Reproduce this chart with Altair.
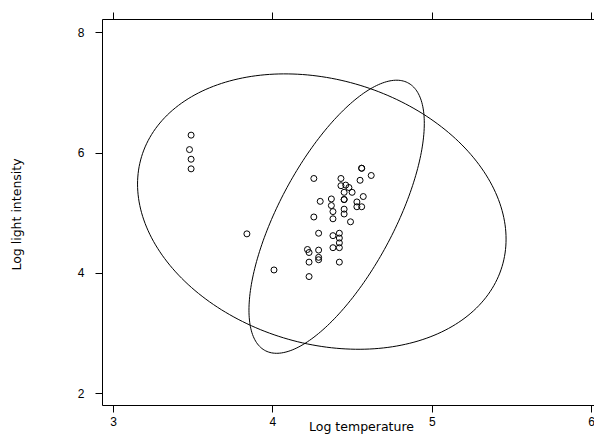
import altair as alt
import numpy as np
import pandas as pd

# Star data (log temperature, log light intensity)
log_te = [4.37, 4.56, 4.26, 4.56, 4.30, 4.46, 3.84, 4.57, 4.26, 4.37, 3.49, 4.43,
          4.48, 4.01, 4.29, 4.42, 4.23, 4.42, 4.23, 3.49, 4.29, 4.29, 4.42, 4.49,
          4.38, 4.42, 4.29, 4.38, 4.22, 3.48, 4.38, 4.56, 4.45, 3.49, 4.23, 4.62,
          4.53, 4.45, 4.53, 4.43, 4.38, 4.45, 4.50, 4.45, 4.55, 4.45, 4.42]
log_light = [5.23, 5.74, 4.93, 5.74, 5.19, 5.46, 4.65, 5.27, 5.57, 5.12, 5.73, 5.45,
             5.42, 4.05, 4.26, 4.58, 3.94, 4.18, 4.18, 5.89, 4.38, 4.22, 4.42, 4.85,
             5.02, 4.66, 4.66, 4.90, 4.39, 6.05, 4.42, 5.10, 5.22, 6.29, 4.34, 5.62,
             5.10, 5.22, 5.18, 5.57, 4.62, 5.06, 5.34, 5.34, 5.54, 4.98, 4.50]

# Ellipses: centre, half-width in x, half-height in y,
# and the y offset (from centre) of the rightmost point
ellipse_ids = ["wide", "narrow"]
ellipse_cx = [4.31, 4.403]
ellipse_cy = [5.02, 4.934]
ellipse_half_w = [1.156, 0.55]
ellipse_half_h = [2.288, 2.269]
ellipse_right_dy = [-0.457, 1.552]

x_ticks = [3, 4, 5, 6]
y_ticks = [2, 4, 6, 8]

pts = pd.DataFrame({"te": log_te, "light": log_light})

rows = []
t = np.linspace(0, 2 * np.pi, 241)
for i, name in enumerate(ellipse_ids):
    a = ellipse_half_w[i]
    b = ellipse_right_dy[i]
    d = np.sqrt(ellipse_half_h[i] ** 2 - b ** 2)
    xs = ellipse_cx[i] + a * np.cos(t)
    ys = ellipse_cy[i] + b * np.cos(t) + d * np.sin(t)
    for k in range(len(t)):
        rows.append({"id": name, "k": k, "x": xs[k], "y": ys[k]})
ell = pd.DataFrame(rows)

xscale = alt.Scale(domain=[2.931, 6.0176], nice=False, zero=False)
yscale = alt.Scale(domain=[1.806, 8.22], nice=False, zero=False)

label_font = "Liberation Sans"
title_font = "DejaVu Sans"

left_axis = alt.Axis(values=y_ticks, grid=False, tickSize=7, tickColor="black",
                     domainColor="black", labelColor="black", labelFont=label_font,
                     labelFontSize=12, labelPadding=11, labelAngle=0,
                     title="Log light intensity", titleFont=title_font,
                     titleFontSize=12.5, titleFontWeight="normal", titleColor="black",
                     titleAngle=-90, titleX=-85.5, titleY=195, titleAlign="center",
                     titleBaseline="middle")
bottom_axis = alt.Axis(orient="bottom", values=x_ticks, grid=False, tickSize=7,
                       tickColor="black", domainColor="black", labelColor="black",
                       labelFont=label_font, labelFontSize=12, labelPadding=4,
                       labelFlush=False, title="Log temperature", titleFont=title_font,
                       titleFontSize=12.5, titleFontWeight="normal", titleColor="black",
                       titleX=259, titleY=25, titleAlign="center",
                       titleBaseline="alphabetic")
top_axis = alt.Axis(orient="top", values=x_ticks, grid=False, tickSize=7,
                    tickColor="black", domainColor="black", labels=False, title=None)

points = alt.Chart(pts).mark_point(shape="circle", filled=False, size=36,
                                   color="black", strokeWidth=1, opacity=1).encode(
    x=alt.X("te:Q", scale=xscale, axis=bottom_axis),
    y=alt.Y("light:Q", scale=yscale, axis=left_axis),
)

lines = alt.Chart(ell).mark_line(color="black", strokeWidth=1).encode(
    x=alt.X("x:Q", scale=xscale, axis=top_axis),
    y=alt.Y("y:Q", scale=yscale, axis=left_axis),
    detail="id:N",
    order="k:Q",
)

chart = alt.layer(lines, points).resolve_axis(x="independent").properties(
    width=492, height=386,
    autosize=alt.AutoSizeParams(type="none"),
    padding={"left": 94, "top": 11, "right": 0, "bottom": 29},
).configure_view(stroke=None).configure(background="white")

chart.save("out.html", embed_options={"renderer": "svg", "actions": False})
